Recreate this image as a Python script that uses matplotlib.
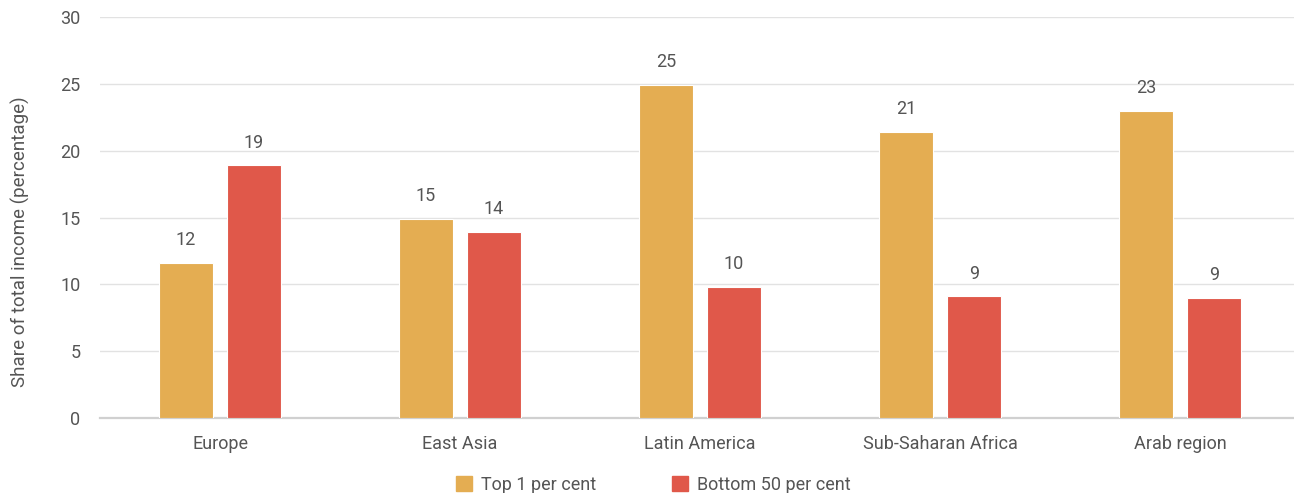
import numpy as np
import matplotlib
matplotlib.use("Agg")
import matplotlib.pyplot as plt
from matplotlib.patches import Patch

plt.rcParams['font.family'] = ['Liberation Sans Narrow', 'Roboto', 'DejaVu Sans']

# income shares by region
regions = ["Europe", "East Asia", "Latin America", "Sub-Saharan Africa", "Arab region"]
top1 = [11.6, 14.9, 24.9, 21.4, 23.0]
bottom50 = [18.9, 13.9, 9.8, 9.1, 9.0]
series_names = ["Top 1 per cent", "Bottom 50 per cent"]

c_top = "#e4ad52"
c_bot = "#e0584a"
txt = "#555555"

fig = plt.figure(figsize=(12.94, 4.93), dpi=100)
ax = fig.add_axes([0.0773, 0.152, 0.9227, 0.8135])

x = np.arange(len(regions))
w = 0.225
off = 0.142
b1 = ax.bar(x - off, top1, w, color=c_top, edgecolor="white", linewidth=0.8, zorder=3)
b2 = ax.bar(x + off, bottom50, w, color=c_bot, edgecolor="white", linewidth=0.8, zorder=3)

for bars, vals in ((b1, top1), (b2, bottom50)):
    for r, v in zip(bars, vals):
        ax.annotate(f"{v:.0f}", (r.get_x() + r.get_width() / 2, v),
                    xytext=(0, 10), textcoords="offset points",
                    ha="center", va="bottom", fontsize=13, color=txt)

ax.set_ylim(0, 30)
ax.set_xlim(-0.5, 4.475)
ax.set_yticks(range(0, 31, 5))
ax.yaxis.grid(True, color="#e2e2e2", linewidth=1.0, zorder=0)
ax.set_axisbelow(True)
for s in ["top", "right", "left"]:
    ax.spines[s].set_visible(False)
ax.spines["bottom"].set_color("#d0d0d0")
ax.spines["bottom"].set_linewidth(1.6)
ax.tick_params(axis="both", length=0, labelsize=13, colors=txt)
ax.tick_params(axis="x", pad=12)
ax.tick_params(axis="y", pad=14)
ax.set_xticks(x)
ax.set_xticklabels(regions)
ax.set_ylabel("Share of total income (percentage)", fontsize=13.5, color=txt)
ax.yaxis.set_label_coords(-0.059, 0.44)

handles = [Patch(color=c_top), Patch(color=c_bot)]
fig.legend(handles, series_names, loc="lower center", bbox_to_anchor=(0.505, -0.035),
           ncol=2, frameon=False, fontsize=13, labelcolor=txt,
           handlelength=0.9, handleheight=0.9, handletextpad=0.5, columnspacing=4.2)

fig.savefig("out.png", dpi=100)
